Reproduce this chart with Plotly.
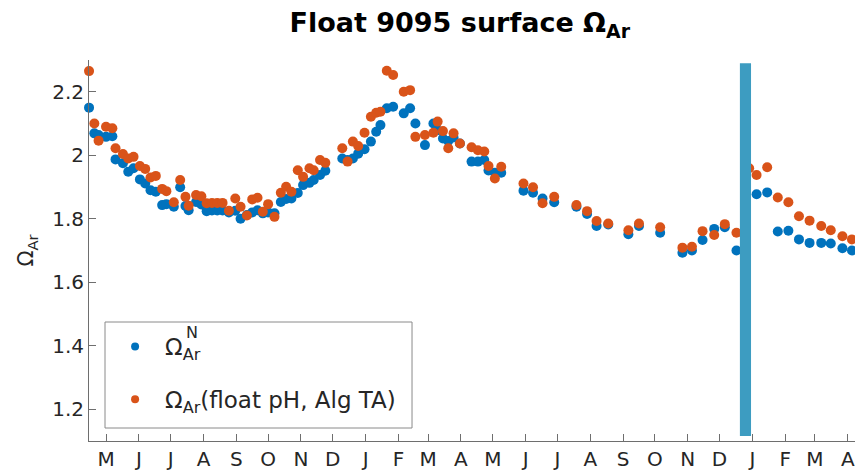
import plotly.graph_objects as go

# Profile dates (float surface samples)
dates = [
    "2016-04-15", "2016-04-20", "2016-04-24", "2016-05-01", "2016-05-07",
    "2016-05-10", "2016-05-17", "2016-05-22", "2016-05-27", "2016-06-02",
    "2016-06-07", "2016-06-12", "2016-06-17", "2016-06-23", "2016-06-27",
    "2016-07-04", "2016-07-10", "2016-07-15", "2016-07-18", "2016-07-25",
    "2016-07-30", "2016-08-04", "2016-08-09", "2016-08-14", "2016-08-19",
    "2016-08-25", "2016-08-31", "2016-09-05", "2016-09-11", "2016-09-16",
    "2016-09-21", "2016-09-26", "2016-10-01", "2016-10-07", "2016-10-13",
    "2016-10-18", "2016-10-23", "2016-10-29", "2016-11-03", "2016-11-09",
    "2016-11-13", "2016-11-19", "2016-11-24", "2016-12-10", "2016-12-15",
    "2016-12-20", "2016-12-25", "2016-12-31", "2017-01-06", "2017-01-11",
    "2017-01-15", "2017-01-21", "2017-01-27", "2017-02-06", "2017-02-12",
    "2017-02-17", "2017-02-26", "2017-03-06", "2017-03-10", "2017-03-15",
    "2017-03-20", "2017-03-25", "2017-03-31", "2017-04-11", "2017-04-17",
    "2017-04-23", "2017-04-27", "2017-05-03", "2017-05-09", "2017-05-30",
    "2017-06-08", "2017-06-17", "2017-06-28", "2017-07-19", "2017-07-29",
    "2017-08-07", "2017-08-18", "2017-09-06", "2017-09-16", "2017-10-06",
    "2017-10-27", "2017-11-05", "2017-11-15", "2017-11-26", "2017-12-06",
    "2017-12-17", "2017-12-29", "2018-01-05", "2018-01-15", "2018-01-25",
    "2018-02-04", "2018-02-14", "2018-02-24", "2018-03-07", "2018-03-16",
    "2018-03-27", "2018-04-05",
]

# Omega_Ar from the N-based estimate
omega_n = [
    2.150, 2.069, 2.064, 2.058, 2.060, 1.987, 1.975, 1.948, 1.959, 1.924,
    1.911, 1.890, 1.885, 1.843, 1.846, 1.838, 1.899, 1.840, 1.827, 1.853,
    1.845, 1.824, 1.826, 1.826, 1.826, 1.820, 1.825, 1.800, 1.812, 1.820,
    1.827, 1.817, 1.820, 1.817, 1.853, 1.862, 1.864, 1.881, 1.906, 1.913,
    1.922, 1.938, 1.951, 1.990, 1.985, 1.990, 2.005, 2.019, 2.043, 2.074,
    2.095, 2.148, 2.153, 2.132, 2.148, 2.100, 2.032, 2.100, 2.079, 2.053,
    2.045, 2.056, 2.037, 1.980, 1.980, 1.985, 1.952, 1.945, 1.945, 1.888,
    1.882, 1.864, 1.852, 1.838, 1.815, 1.777, 1.782, 1.751, 1.777, 1.756,
    1.693, 1.700, 1.733, 1.768, 1.773, 1.700, None, 1.877, 1.883, 1.760,
    1.762, 1.735, 1.724, 1.724, 1.722, 1.707, 1.700,
]

# Omega_Ar from float pH with algorithm TA
omega_float = [
    2.265, 2.100, 2.046, 2.090, 2.085, 2.022, 2.004, 1.990, 1.995, 1.966,
    1.957, 1.930, 1.935, 1.894, 1.887, 1.852, 1.922, 1.869, 1.841, 1.875,
    1.871, 1.849, 1.850, 1.850, 1.850, 1.825, 1.864, 1.838, 1.810, 1.861,
    1.866, 1.822, 1.846, 1.806, 1.882, 1.901, 1.885, 1.953, 1.932, 1.959,
    1.953, 1.985, 1.976, 2.022, 1.980, 2.043, 2.029, 2.071, 2.121, 2.134,
    2.137, 2.266, 2.253, 2.200, 2.205, 2.058, 2.064, 2.071, 2.106, 2.076,
    2.022, 2.069, 2.037, 2.025, 2.016, 2.012, 1.966, 1.927, 1.964, 1.911,
    1.899, 1.849, 1.869, 1.843, 1.824, 1.793, 1.785, 1.764, 1.785, 1.773,
    1.709, 1.712, 1.761, 1.749, 1.783, 1.756, 1.959, 1.938, 1.962, 1.867,
    1.852, 1.808, 1.794, 1.777, 1.764, 1.745, 1.735,
]

# Month tick marks and single-letter labels
month_ticks = [
    "2016-05-01", "2016-06-01", "2016-07-01", "2016-08-01", "2016-09-01",
    "2016-10-01", "2016-11-01", "2016-12-01", "2017-01-01", "2017-02-01",
    "2017-03-01", "2017-04-01", "2017-05-01", "2017-06-01", "2017-07-01",
    "2017-08-01", "2017-09-01", "2017-10-01", "2017-11-01", "2017-12-01",
    "2018-01-01", "2018-02-01", "2018-03-01", "2018-04-01",
]
month_labels = ["M", "J", "J", "A", "S", "O", "N", "D", "J", "F", "M", "A",
                "M", "J", "J", "A", "S", "O", "N", "D", "J", "F", "M", "A"]

BLUE = "#0072BD"
ORANGE = "#D95319"
TEXT = "#262626"
AXIS = "#6e6e6e"
FONT = "DejaVu Sans, Verdana, sans-serif"

series = [
    ("Ω<sub>Ar</sub>", omega_n, BLUE),
    ("Ω<sub>Ar</sub>(float pH, Alg TA)", omega_float, ORANGE),
]

fig = go.Figure()
for i, (label, values, color) in enumerate(series):
    fig.add_trace(go.Scatter(
        x=dates, y=values, mode="markers", name=label,
        marker=dict(color=color, size=10), cliponaxis=False,
        showlegend=False,
    ))
    # small legend symbol, as in the legend box
    fig.add_trace(go.Scatter(
        x=[None], y=[None], mode="markers", name=label,
        marker=dict(color=color, size=8), legendgroup=f"g{i}",
        showlegend=True,
    ))

# Highlighted period at the turn of the year
fig.add_shape(
    type="rect", xref="x", yref="y",
    x0="2017-12-20 06:00", x1="2017-12-30 18:00", y0=1.116, y1=2.29,
    fillcolor="#3d9cc1", line=dict(width=0), layer="above",
)

# Legend frame
fig.add_shape(
    type="rect", xref="paper", yref="paper",
    x0=0.0209, x1=0.4217, y0=0.0341, y1=0.3123,
    fillcolor="white", line=dict(color="#8a8a8a", width=1), layer="above",
)

# Superscript N stacked over the subscript in the first legend entry
fig.add_annotation(
    text="N", xref="paper", yref="paper", x=0.1245, y=0.2835,
    showarrow=False, font=dict(family=FONT, size=16, color=TEXT),
    xanchor="left", yanchor="middle",
)

fig.update_layout(
    width=855, height=475,
    margin=dict(l=89, r=0, t=60, b=34),
    paper_bgcolor="white", plot_bgcolor="white",
    font=dict(family=FONT, size=20, color=TEXT),
    title=dict(
        text="<b>Float 9095 surface Ω<sub>Ar</sub></b>",
        x=0.484, xref="paper", xanchor="center",
        y=0.9516, yref="container", yanchor="middle",
        font=dict(family=FONT, size=27, color="#000000"),
    ),
    showlegend=True,
    legend=dict(
        x=0.021, y=0.3045, xanchor="left", yanchor="top",
        bgcolor="rgba(0,0,0,0)", borderwidth=0,
        font=dict(family=FONT, size=23, color=TEXT),
        itemsizing="trace", itemwidth=50, tracegroupgap=20,
    ),
)

fig.update_xaxes(
    type="date",
    range=["2016-04-14 23:00", "2018-04-07 21:00"],
    tickmode="array", tickvals=month_ticks, ticktext=month_labels,
    ticks="inside", ticklen=7, tickcolor=AXIS, tickwidth=1,
    showline=True, linecolor=AXIS, linewidth=1,
    showgrid=False, zeroline=False, ticklabeloverflow="allow",
    tickfont=dict(size=20, color=TEXT),
)
fig.update_yaxes(
    range=[1.1, 2.3], dtick=0.2, tick0=1.2,
    ticks="inside", ticklen=7, tickcolor=AXIS, tickwidth=1,
    showline=True, linecolor=AXIS, linewidth=1,
    showgrid=False, zeroline=False,
    tickfont=dict(size=20, color=TEXT),
    title=dict(text="Ω<sub>Ar</sub>", standoff=12,
               font=dict(size=21, color=TEXT)),
)

fig.write_html("out.html")
